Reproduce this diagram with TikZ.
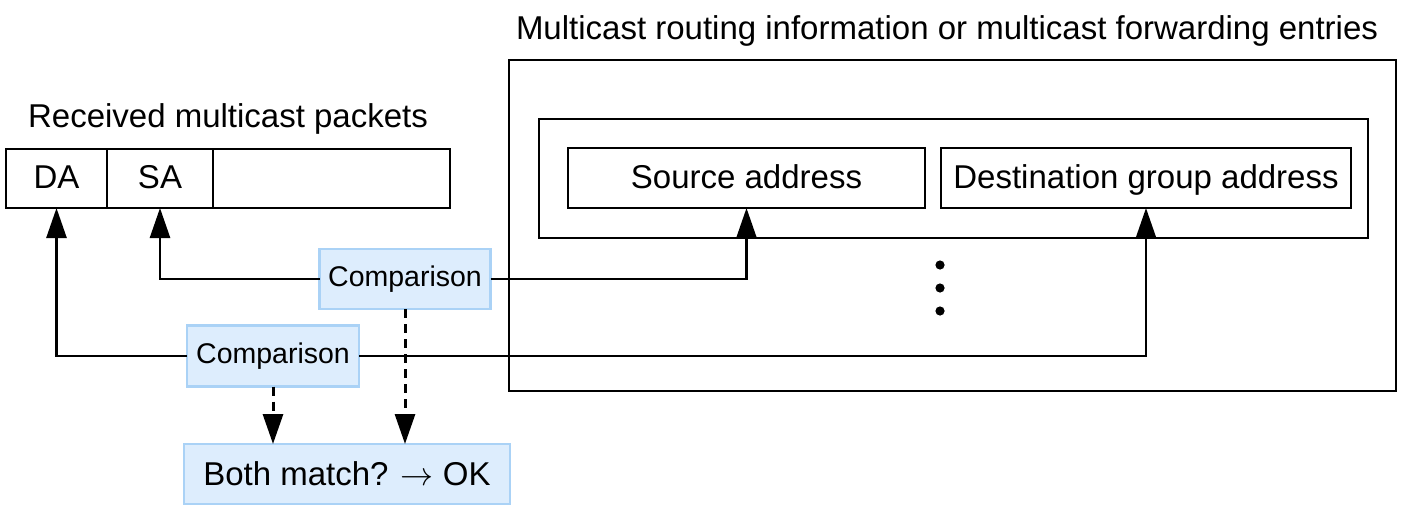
\RequirePackage{fix-cm}
\documentclass[tikz,border=0pt]{standalone}
\usepackage{fontspec}
\setmainfont{Liberation Sans}
\usetikzlibrary{arrows.meta}
\definecolor{cmpfill}{RGB}{221,237,253}
\definecolor{cmpdraw}{RGB}{170,210,246}
\tikzset{
  box/.style={draw=black, line width=2.6pt, inner sep=0pt, outer sep=0pt, font=\fontsize{33}{40}\selectfont, text height=27pt, text depth=7pt},
  cmp/.style={draw=cmpdraw, fill=cmpfill, line width=2.6pt, inner sep=0pt, outer sep=0pt},
  lbl/.style={inner sep=0pt, font=\fontsize{33}{40}\selectfont, text height=23.5pt, text depth=7pt},
  arr/.style={line width=2.6pt, -{Triangle[length=30pt,width=20pt]}},
  darr/.style={line width=3pt, dash pattern=on 9pt off 6pt, -{Triangle[length=30pt,width=20pt]}},
}
\begin{document}
\begin{tikzpicture}[x=1pt,y=-1pt]
\useasboundingbox (0,0) rectangle (1403,512);
% titles
\node[lbl] (title) at (947,31) {Multicast routing information or multicast forwarding entries};
\node[lbl] (rcv) at (228,119) {Received multicast packets};
% packet
\node[box, minimum width=101pt, minimum height=59pt] (da) at (56.5,178.5) {DA};
\node[box, minimum width=106pt, minimum height=59pt] (sa) at (160,178.5) {SA};
\node[box, minimum width=237pt, minimum height=59pt] (rest) at (331.5,178.5) {};
% routing table
\node[box, minimum width=887pt, minimum height=331pt] (outer) at (952.5,225.5) {};
\node[box, minimum width=829pt, minimum height=119pt] (inner) at (953.5,178.5) {};
\node[box, minimum width=357pt, minimum height=60pt] (src) at (746.5,178) {Source address};
\node[box, minimum width=410pt, minimum height=60pt] (dst) at (1146,178) {Destination group address};
\foreach \yy in {265,288,311}
  \fill (940,\yy) circle[radius=4.6pt];
% comparisons
\node[cmp, minimum width=171pt, minimum height=60pt, font=\fontsize{28.5}{34}\selectfont] (c1) at (405,279) {Comparison};
\node[cmp, minimum width=172pt, minimum height=61pt, font=\fontsize{28.5}{34}\selectfont] (c2) at (273,356) {Comparison};
\node[cmp, minimum width=326pt, minimum height=60pt, font=\fontsize{33}{40}\selectfont] (both) at (347,474) {Both match? $\rightarrow$ OK};
% connectors
\draw[arr] (c1.west) -| (sa.south);
\draw[arr] (c1.east) -| (src.south);
\draw[arr] (c2.west) -| (da.south);
\draw[arr] (c2.east) -| (dst.south);
\draw[darr] (c1.south) -- (c1.south |- both.north);
\draw[darr] (c2.south) -- (c2.south |- both.north);
\end{tikzpicture}
\end{document}
